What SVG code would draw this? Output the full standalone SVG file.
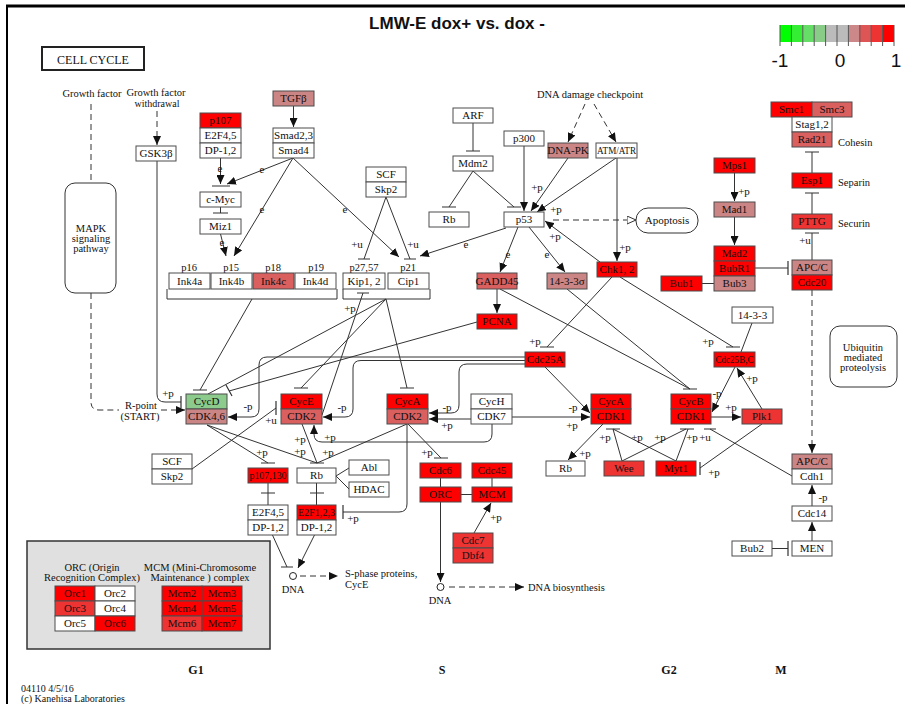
<svg xmlns="http://www.w3.org/2000/svg" width="905" height="704" viewBox="0 0 905 704">
<defs>
<style>
text{font-family:"Liberation Serif","DejaVu Serif",serif;font-size:11px;fill:#111}
.c{text-anchor:middle}
.bx{stroke:#4d4d4d;stroke-width:1}
.w{fill:#fff}.r{fill:#ff0000}.r2{fill:#ee3333}.r3{fill:#da5f5f}.pk{fill:#cc8585}.gr{fill:#8ccb8c}
.e{fill:none;stroke:#333;stroke-width:1}
.d{stroke-dasharray:6 4}
.bar{fill:none;stroke:#333;stroke-width:1.2}
.s{font-size:10.5px}
.ph{font-weight:bold;font-size:12px}
.ttl{font-family:"Liberation Sans",Arial,sans-serif;font-weight:bold;font-size:17px;text-anchor:middle}
.sc{font-family:"Liberation Sans",Arial,sans-serif;font-size:19px;text-anchor:middle}
</style>
<marker id="ah" markerUnits="userSpaceOnUse" markerWidth="9" markerHeight="8" viewBox="0 0 9 8" refX="9" refY="4" orient="auto"><path d="M0,0 L9,4 L0,8z" fill="#111"/></marker>
<marker id="oh" markerUnits="userSpaceOnUse" markerWidth="10" markerHeight="9" viewBox="0 0 10 9" refX="9.5" refY="4.5" orient="auto"><path d="M0.5,0.5 L9.5,4.5 L0.5,8.5z" fill="#fff" stroke="#333"/></marker>
</defs>

<!-- page frame and title -->
<path d="M6,6 H905" stroke="#000" stroke-width="3"/>
<path d="M7,6 V704" stroke="#000" stroke-width="2"/>
<text class="ttl" x="457" y="29">LMW-E dox+ vs. dox -</text>

<!-- colour scale -->
<g id="scale">
<rect x="780" y="25" width="11.4" height="17" fill="#00ff00"/>
<rect x="791.4" y="25" width="11.4" height="17" fill="#33ee33"/>
<rect x="802.8" y="25" width="11.4" height="17" fill="#66dd66"/>
<rect x="814.2" y="25" width="11.4" height="17" fill="#88cc88"/>
<rect x="825.6" y="25" width="11.4" height="17" fill="#bbbbbb"/>
<rect x="837" y="25" width="11.4" height="17" fill="#bbbbbb"/>
<rect x="848.4" y="25" width="11.4" height="17" fill="#cc8888"/>
<rect x="859.8" y="25" width="11.4" height="17" fill="#dd5555"/>
<rect x="871.2" y="25" width="11.4" height="17" fill="#ee3333"/>
<rect x="882.6" y="25" width="11.4" height="17" fill="#ff0000"/>
<path d="M780,25V46M791.4,25V46M802.8,25V46M814.2,25V46M825.6,25V46M837,25V46M848.4,25V46M859.8,25V46M871.2,25V46M882.6,25V46M894,25V46" stroke="#555" stroke-width="1"/>
<text class="sc" x="780" y="67">-1</text>
<text class="sc" x="840" y="67">0</text>
<text class="sc" x="896" y="67">1</text>
</g>

<!-- map title and side pathways -->
<g id="cellcycle"><rect x="42" y="47" width="102" height="23" fill="#fff" stroke="#222" stroke-width="2"/><text class="c" x="93" y="64" style="font-size:12px">CELL CYCLE</text></g>
<g id="mapk"><rect x="65" y="183" width="51" height="110" rx="10" fill="#fff" stroke="#333"/><text class="c s" x="91" y="232">MAPK</text><text class="c s" x="91" y="242">signaling</text><text class="c s" x="91" y="252">pathway</text></g>
<g id="ubiq"><rect x="830" y="326" width="67" height="61" rx="10" fill="#fff" stroke="#333"/><text class="c s" x="863" y="351">Ubiquitin</text><text class="c s" x="863" y="361">mediated</text><text class="c s" x="863" y="371">proteolysis</text></g>
<g id="apoptosis"><rect x="636" y="208" width="62" height="25" rx="12" fill="#fff" stroke="#333"/><text class="c" x="667" y="224">Apoptosis</text></g>

<!-- free labels -->
<text class="c s" x="92" y="97">Growth factor</text>
<text class="c s" x="156" y="96">Growth factor</text>
<text class="c" x="157" y="107" style="font-size:10px">withdrawal</text>
<text class="c s" x="590" y="98">DNA damage checkpoint</text>
<text class="c s" x="141" y="409">R-point</text>
<text class="c s" x="140" y="420">(START)</text>
<text class="s" x="838" y="146">Cohesin</text>
<text class="s" x="838" y="186">Separin</text>
<text class="s" x="838" y="227">Securin</text>
<text class="s" x="345" y="577">S-phase proteins,</text>
<text class="s" x="345" y="588">CycE</text>
<text class="c s" x="293" y="593">DNA</text>
<text class="c s" x="440" y="604">DNA</text>
<text class="s" x="528" y="591">DNA biosynthesis</text>
<text class="c s" x="189" y="271">p16</text>
<text class="c s" x="231" y="271">p15</text>
<text class="c s" x="273" y="271">p18</text>
<text class="c s" x="316" y="271">p19</text>
<text class="c s" x="364" y="271">p27,57</text>
<text class="c s" x="408" y="271">p21</text>
<text class="c ph" x="196" y="674">G1</text>
<text class="c ph" x="442" y="674">S</text>
<text class="c ph" x="669" y="674">G2</text>
<text class="c ph" x="781" y="674">M</text>
<text x="21" y="692" style="font-size:10px">04110 4/5/16</text>
<text x="21" y="702" style="font-size:10px">(c) Kanehisa Laboratories</text>

<!-- connectors -->
<g id="connectors">
<path class="e d" d="M91,104 V183"/>
<path class="e d" d="M91,293 V402 Q91,410 99,410 H119"/>
<path class="e d" d="M161,410 H185" marker-end="url(#ah)"/>
<path class="e d" d="M157,111 V145" marker-end="url(#ah)"/>
<path class="e d" d="M585,104 L568,142" marker-end="url(#ah)"/>
<path class="e d" d="M594,104 L616,142" marker-end="url(#ah)"/>
<path class="e d" d="M553,220 H636" marker-end="url(#oh)"/>
<path class="e d" d="M812,290 V453" marker-end="url(#ah)"/>
<path class="e d" d="M300,576 H338" marker-end="url(#ah)"/>
<path class="e d" d="M449,587 H524" marker-end="url(#ah)"/>

<path class="e" d="M293.5,106 V127" marker-end="url(#ah)"/>
<path class="e" d="M220.5,158 V184" marker-end="url(#ah)"/>
<path class="e" d="M293,158 L227,184" marker-end="url(#ah)"/>
<path class="e" d="M220.5,234 L226,256" marker-end="url(#ah)"/>
<path class="e" d="M293,158 L234,256" marker-end="url(#ah)"/>
<path class="e" d="M293,158 L399,257" marker-end="url(#ah)"/>
<path class="e" d="M506,228 L420,256" marker-end="url(#ah)"/>
<path class="e" d="M524,146 V211" marker-end="url(#ah)"/>
<path class="e" d="M568,158 L531,211" marker-end="url(#ah)"/>
<path class="e" d="M616,158 L537,212" marker-end="url(#ah)"/>
<path class="e" d="M617,158 V261" marker-end="url(#ah)"/>
<path class="e" d="M600,262 L545,221" marker-end="url(#ah)"/>
<path class="e" d="M518,227 L500,272" marker-end="url(#ah)"/>
<path class="e" d="M529,227 L565,272" marker-end="url(#ah)"/>
<path class="e" d="M497,289 V313" marker-end="url(#ah)"/>
<path class="e" d="M525,357 H267 Q259,357 259,365 V409 Q259,417 251,417 H228" marker-end="url(#ah)"/>
<path class="e" d="M525,360.5 H361 Q353,360.5 353,368 V409 Q353,417 345,417 H323" marker-end="url(#ah)"/>
<path class="e" d="M525,364 H467 Q459,364 459,372 V405 Q459,413 451,413 H429" marker-end="url(#ah)"/>
<path class="e" d="M471,419 H429" marker-end="url(#ah)"/>
<path class="e" d="M492,424 V434 Q492,442 484,442 H322 Q314,442 314,434 V425" marker-end="url(#ah)"/>
<path class="e" d="M512,417 H590" marker-end="url(#ah)"/>
<path class="e" d="M545,367 L590,413" marker-end="url(#ah)"/>
<path class="e" d="M735,367 L712,412" marker-end="url(#ah)"/>
<path class="e" d="M762,409 L737,368" marker-end="url(#ah)"/>
<path class="e" d="M711,417 H741" marker-end="url(#ah)"/>
<path class="e" d="M603,424 L568,460" marker-end="url(#ah)"/>
<path class="e" d="M315,534 L298,568" marker-end="url(#ah)"/>
<path class="e" d="M440.5,502 V582" marker-end="url(#ah)"/>
<path class="e" d="M474,533 L491,503" marker-end="url(#ah)"/>
<path class="e" d="M734.5,173 V201" marker-end="url(#ah)"/>
<path class="e" d="M734.5,217 V245" marker-end="url(#ah)"/>
<path class="e" d="M812,506 V485" marker-end="url(#ah)"/>
<path class="e" d="M812,541 V522" marker-end="url(#ah)"/>

<path class="e" d="M157,161 V394 Q157,402 165,402 H181"/>
<path class="e" d="M220.5,207 V213"/>
<path class="e" d="M473,123 V151"/>
<path class="e" d="M473,171 L449,207"/>
<path class="e" d="M473,171 L514,207"/>
<path class="e" d="M386,197 L364,259"/>
<path class="e" d="M386,197 L410,259"/>
<path class="e" d="M167,289 V299 H337 V289"/>
<path class="e" d="M343,289 V299 H430 V289"/>
<path class="e" d="M252,299 L200,390"/>
<path class="e" d="M386,299 L208,394"/>
<path class="e" d="M477,322 L229,391"/>
<path class="e" d="M386,299 L301,388"/>
<path class="e" d="M386,299 L407,388"/>
<path class="e" d="M322,415 L363,293"/>
<path class="e" d="M612,277 L547,347"/>
<path class="e" d="M620,277 L733,347"/>
<path class="e" d="M752,323 L741,352"/>
<path class="e" d="M500,289 L690,389"/>
<path class="e" d="M567,289 L690,389"/>
<path class="e" d="M622,461 L613,429"/>
<path class="e" d="M622,461 L686,429"/>
<path class="e" d="M676,461 L613,429"/>
<path class="e" d="M676,461 L688,429"/>
<path class="e" d="M792,476 L710,429"/>
<path class="e" d="M762,424 L700,468"/>
<path class="e" d="M207,425 L268,463"/>
<path class="e" d="M207,425 L317,463"/>
<path class="e" d="M302,424 L317,463"/>
<path class="e" d="M407,424 L317,463"/>
<path class="e" d="M192,469 L276,408"/>
<path class="e" d="M336,476 L349,468 M336,476 L349,489"/>
<path class="e" d="M268,483 V505 M316.5,483 V505"/>
<path class="e" d="M407,424 V504 Q407,512 399,512 H343"/>
<path class="e" d="M408,424 L441,458"/>
<path class="e" d="M272,534 L287,567"/>
<path class="e" d="M440.5,478 V487 M492,478 V487 M461,494.5 H472"/>
<path class="e" d="M702,283.5 H714"/>
<path class="e" d="M755,268 H788"/>
<path class="e" d="M812,260 V233 M812,214 V193 M812,173 V152"/>
<path class="e" d="M772,548.5 H788"/>

<!-- inhibition bars and crossing ticks -->
<path class="bar" d="M181,396 V408 M212,186 H230 M213,213 H228 M466,151 H480 M442,207 H456 M507,207 H521 M358,259 H370 M404,259 H416 M193,390 H207 M226,385 L232,396 M294,388 H308 M400,388 H414 M357,293 H369 M540,347 H554 M726,347 H740 M683,389 H697 M606,429 H620 M680,429 H694 M704,429 H716 M700,462 V475 M261,463 H275 M310,463 H324 M343,505 V519 M434,458 H448 M276,401 V415 M281,567 H293 M788,261 V275 M805,233 H819 M805,193 H819 M805,152 H819 M788,541 V556 M261,493 H275 M310,493 H324"/>

<circle cx="293" cy="576" r="3.5" fill="#fff" stroke="#222"/>
<circle cx="440.5" cy="587" r="3.5" fill="#fff" stroke="#222"/>

<!-- edge labels -->
<g class="s">
<text class="c" x="168" y="397">+p</text>
<text class="c" x="220" y="172">e</text>
<text class="c" x="262" y="173">e</text>
<text class="c" x="222" y="246">e</text>
<text class="c" x="262" y="213">e</text>
<text class="c" x="345" y="213">e</text>
<text class="c" x="466" y="248">e</text>
<text class="c" x="508" y="258">e</text>
<text class="c" x="547" y="258">e</text>
<text class="c" x="357" y="248">+u</text>
<text class="c" x="413" y="248">+u</text>
<text class="c" x="537" y="191">+p</text>
<text class="c" x="556" y="213">+p</text>
<text class="c" x="625" y="251">+p</text>
<text class="c" x="555" y="240">+p</text>
<text class="c" x="535" y="345">+p</text>
<text class="c" x="708" y="345">+p</text>
<text class="c" x="248" y="410">-p</text>
<text class="c" x="342" y="411">-p</text>
<text class="c" x="447" y="411">-p</text>
<text class="c" x="447" y="429">+p</text>
<text class="c" x="330" y="441">+p</text>
<text class="c" x="573" y="411">-p</text>
<text class="c" x="572" y="429">+p</text>
<text class="c" x="717" y="397">-p</text>
<text class="c" x="752" y="382">+p</text>
<text class="c" x="731" y="411">+p</text>
<text class="c" x="585" y="457">+p</text>
<text class="c" x="605" y="441">+p</text>
<text class="c" x="637" y="441">+p</text>
<text class="c" x="660" y="441">+p</text>
<text class="c" x="692" y="441">+p</text>
<text class="c" x="705" y="441">+u</text>
<text class="c" x="714" y="476">+p</text>
<text class="c" x="262" y="456">+p</text>
<text class="c" x="300" y="443">+p</text>
<text class="c" x="300" y="455">+p</text>
<text class="c" x="328" y="456">+p</text>
<text class="c" x="271" y="424">+u</text>
<text class="c" x="353" y="522">+p</text>
<text class="c" x="427" y="456">+p</text>
<text class="c" x="350" y="312">+p</text>
<text class="c" x="496" y="521">+p</text>
<text class="c" x="744" y="195">+p</text>
<text class="c" x="805" y="244">+u</text>
<text class="c" x="823" y="501">-p</text>
</g>
</g>

<!-- gene product nodes -->
<g id="gsk3b"><rect class="bx w" x="136" y="146" width="40" height="15"/><text class="c" x="156" y="157">GSK3β</text></g>
<g id="p107-e2f45"><rect class="bx r" x="200" y="113" width="41" height="15"/><rect class="bx w" x="200" y="128" width="41" height="15"/><rect class="bx w" x="200" y="143" width="41" height="15"/><text class="c" x="220.5" y="124">p107</text><text class="c" x="220.5" y="139">E2F4,5</text><text class="c" x="220.5" y="154">DP-1,2</text></g>
<g id="tgfb"><rect class="bx pk" x="273" y="91" width="41" height="15"/><text class="c" x="293.5" y="102">TGFβ</text></g>
<g id="smad"><rect class="bx w" x="273" y="128" width="41" height="15"/><rect class="bx w" x="273" y="143" width="41" height="15"/><text class="c" x="293.5" y="139">Smad2,3</text><text class="c" x="293.5" y="154">Smad4</text></g>
<g id="cmyc"><rect class="bx w" x="200" y="192" width="41" height="15"/><text class="c" x="220.5" y="203">c-Myc</text></g>
<g id="miz1"><rect class="bx w" x="200" y="219" width="41" height="15"/><text class="c" x="220.5" y="230">Miz1</text></g>
<g id="ink4a"><rect class="bx w" x="169" y="273" width="41" height="16"/><text class="c" x="189.5" y="285">Ink4a</text></g>
<g id="ink4b"><rect class="bx w" x="211" y="273" width="41" height="16"/><text class="c" x="231.5" y="285">Ink4b</text></g>
<g id="ink4c"><rect class="bx r3" x="253" y="273" width="41" height="16"/><text class="c" x="273.5" y="285">Ink4c</text></g>
<g id="ink4d"><rect class="bx w" x="295" y="273" width="41" height="16"/><text class="c" x="315.5" y="285">Ink4d</text></g>
<g id="kip12"><rect class="bx w" x="343" y="273" width="42" height="16"/><text class="c" x="364" y="285">Kip1, 2</text></g>
<g id="cip1"><rect class="bx w" x="388" y="273" width="41" height="16"/><text class="c" x="408.5" y="285">Cip1</text></g>
<g id="scf-skp2-a"><rect class="bx w" x="366" y="167" width="40" height="15"/><rect class="bx w" x="366" y="182" width="40" height="15"/><text class="c" x="386" y="178">SCF</text><text class="c" x="386" y="193">Skp2</text></g>
<g id="arf"><rect class="bx w" x="453" y="108" width="40" height="15"/><text class="c" x="473" y="119">ARF</text></g>
<g id="mdm2"><rect class="bx w" x="453" y="156" width="40" height="15"/><text class="c" x="473" y="167">Mdm2</text></g>
<g id="rb-a"><rect class="bx w" x="429" y="212" width="40" height="15"/><text class="c" x="449" y="223">Rb</text></g>
<g id="p300"><rect class="bx w" x="504" y="131" width="40" height="15"/><text class="c" x="524" y="142">p300</text></g>
<g id="p53"><rect class="bx w" x="504" y="212" width="40" height="15"/><text class="c" x="524" y="223">p53</text></g>
<g id="dnapk"><rect class="bx pk" x="548" y="143" width="40" height="15"/><text class="c" x="568" y="154">DNA-PK</text></g>
<g id="atm-atr"><rect class="bx w" x="596" y="143" width="41" height="15"/><text class="c" x="616.5" y="154" textLength="39" lengthAdjust="spacingAndGlyphs">ATM/ATR</text></g>
<g id="chk12"><rect class="bx r" x="597" y="262" width="40" height="15"/><text class="c" x="617" y="273">Chk1, 2</text></g>
<g id="gadd45"><rect class="bx r3" x="477" y="273" width="40" height="16"/><text class="c" x="497" y="285">GADD45</text></g>
<g id="s1433s"><rect class="bx pk" x="547" y="273" width="40" height="16"/><text class="c" x="567" y="285">14-3-3σ</text></g>
<g id="pcna"><rect class="bx r" x="477" y="314" width="40" height="15"/><text class="c" x="497" y="325">PCNA</text></g>
<g id="cdc25a"><rect class="bx r" x="525" y="352" width="40" height="15"/><text class="c" x="545" y="363">Cdc25A</text></g>
<g id="s1433"><rect class="bx w" x="732" y="307" width="41" height="16"/><text class="c" x="752.5" y="319">14-3-3</text></g>
<g id="cdc25bc"><rect class="bx r" x="714" y="352" width="41" height="15"/><text class="c" x="734.5" y="363" textLength="38" lengthAdjust="spacingAndGlyphs">Cdc25B,C</text></g>
<g id="cycd-cdk46"><rect class="bx gr" x="186" y="394" width="41" height="15"/><rect class="bx pk" x="186" y="409" width="41" height="15"/><text class="c" x="206.5" y="405">CycD</text><text class="c" x="206.5" y="420">CDK4,6</text></g>
<g id="cyce-cdk2"><rect class="bx r" x="281" y="394" width="41" height="15"/><rect class="bx r3" x="281" y="409" width="41" height="15"/><text class="c" x="301.5" y="405">CycE</text><text class="c" x="301.5" y="420">CDK2</text></g>
<g id="cyca-cdk2"><rect class="bx r" x="387" y="394" width="41" height="15"/><rect class="bx r3" x="387" y="409" width="41" height="15"/><text class="c" x="407.5" y="405">CycA</text><text class="c" x="407.5" y="420">CDK2</text></g>
<g id="cych-cdk7"><rect class="bx w" x="471" y="394" width="41" height="15"/><rect class="bx w" x="471" y="409" width="41" height="15"/><text class="c" x="491.5" y="405">CycH</text><text class="c" x="491.5" y="420">CDK7</text></g>
<g id="cyca-cdk1"><rect class="bx r" x="591" y="394" width="40" height="15"/><rect class="bx r" x="591" y="409" width="40" height="15"/><text class="c" x="611" y="405">CycA</text><text class="c" x="611" y="420">CDK1</text></g>
<g id="cycb-cdk1"><rect class="bx r" x="671" y="394" width="40" height="15"/><rect class="bx r" x="671" y="409" width="40" height="15"/><text class="c" x="691" y="405">CycB</text><text class="c" x="691" y="420">CDK1</text></g>
<g id="plk1"><rect class="bx r2" x="742" y="409" width="40" height="15"/><text class="c" x="762" y="420">Plk1</text></g>
<g id="rb-c"><rect class="bx w" x="546" y="461" width="39" height="15"/><text class="c" x="565.5" y="472">Rb</text></g>
<g id="wee"><rect class="bx r2" x="604" y="461" width="40" height="15"/><text class="c" x="624" y="472">Wee</text></g>
<g id="myt1"><rect class="bx r" x="656" y="461" width="40" height="15"/><text class="c" x="676" y="472">Myt1</text></g>
<g id="scf-skp2-b"><rect class="bx w" x="152" y="454" width="40" height="15"/><rect class="bx w" x="152" y="469" width="40" height="15"/><text class="c" x="172" y="465">SCF</text><text class="c" x="172" y="480">Skp2</text></g>
<g id="p107-130"><rect class="bx r" x="248" y="468" width="40" height="15"/><text class="c" x="268" y="479" textLength="37" lengthAdjust="spacingAndGlyphs">p107,130</text></g>
<g id="rb-b"><rect class="bx w" x="297" y="468" width="39" height="15"/><text class="c" x="316.5" y="479">Rb</text></g>
<g id="abl"><rect class="bx w" x="349" y="460" width="40" height="15"/><text class="c" x="369" y="471">Abl</text></g>
<g id="hdac"><rect class="bx w" x="349" y="482" width="40" height="15"/><text class="c" x="369" y="493">HDAC</text></g>
<g id="e2f45-dp"><rect class="bx w" x="248" y="505" width="40" height="15"/><rect class="bx w" x="248" y="520" width="40" height="15"/><text class="c" x="268" y="516">E2F4,5</text><text class="c" x="268" y="531">DP-1,2</text></g>
<g id="e2f123-dp"><rect class="bx r" x="297" y="505" width="39" height="15"/><rect class="bx w" x="297" y="520" width="39" height="15"/><text class="c" x="316.5" y="516" textLength="37" lengthAdjust="spacingAndGlyphs">E2F1,2,3</text><text class="c" x="316.5" y="531">DP-1,2</text></g>
<g id="cdc6"><rect class="bx r" x="420" y="463" width="41" height="15"/><text class="c" x="440.5" y="474">Cdc6</text></g>
<g id="cdc45"><rect class="bx r" x="472" y="463" width="40" height="15"/><text class="c" x="492" y="474">Cdc45</text></g>
<g id="orc"><rect class="bx r" x="420" y="487" width="41" height="15"/><text class="c" x="440.5" y="498">ORC</text></g>
<g id="mcm"><rect class="bx r" x="472" y="487" width="40" height="15"/><text class="c" x="492" y="498">MCM</text></g>
<g id="cdc7-dbf4"><rect class="bx r2" x="453" y="533" width="40" height="15"/><rect class="bx r2" x="453" y="548" width="40" height="15"/><text class="c" x="473" y="544">Cdc7</text><text class="c" x="473" y="559">Dbf4</text></g>
<g id="cohesin"><rect class="bx r" x="771" y="102" width="41" height="15"/><rect class="bx r3" x="812" y="102" width="40" height="15"/><rect class="bx w" x="792" y="117" width="40" height="15"/><rect class="bx r3" x="792" y="132" width="40" height="15"/><text class="c" x="791.5" y="113">Smc1</text><text class="c" x="832" y="113">Smc3</text><text class="c" x="812" y="128">Stag1,2</text><text class="c" x="812" y="143">Rad21</text></g>
<g id="esp1"><rect class="bx r" x="792" y="173" width="40" height="15"/><text class="c" x="812" y="184">Esp1</text></g>
<g id="pttg"><rect class="bx r2" x="792" y="214" width="40" height="15"/><text class="c" x="812" y="225">PTTG</text></g>
<g id="mps1"><rect class="bx r" x="714" y="158" width="41" height="15"/><text class="c" x="734.5" y="169">Mps1</text></g>
<g id="mad1"><rect class="bx pk" x="714" y="202" width="41" height="15"/><text class="c" x="734.5" y="213">Mad1</text></g>
<g id="mad2-bubr1-bub3"><rect class="bx r" x="714" y="246" width="41" height="15"/><rect class="bx r" x="714" y="261" width="41" height="15"/><rect class="bx pk" x="714" y="276" width="41" height="15"/><text class="c" x="734.5" y="257">Mad2</text><text class="c" x="734.5" y="272">BubR1</text><text class="c" x="734.5" y="287">Bub3</text></g>
<g id="bub1"><rect class="bx r" x="661" y="276" width="41" height="15"/><text class="c" x="681.5" y="287">Bub1</text></g>
<g id="apc-cdc20"><rect class="bx pk" x="792" y="260" width="40" height="15"/><rect class="bx r" x="792" y="275" width="40" height="15"/><text class="c" x="812" y="271">APC/C</text><text class="c" x="812" y="286">Cdc20</text></g>
<g id="apc-cdh1"><rect class="bx pk" x="792" y="454" width="40" height="15"/><rect class="bx w" x="792" y="469" width="40" height="15"/><text class="c" x="812" y="465">APC/C</text><text class="c" x="812" y="480">Cdh1</text></g>
<g id="cdc14"><rect class="bx w" x="792" y="506" width="40" height="15"/><text class="c" x="812" y="517">Cdc14</text></g>
<g id="men"><rect class="bx w" x="792" y="541" width="40" height="15"/><text class="c" x="812" y="552">MEN</text></g>
<g id="bub2"><rect class="bx w" x="732" y="541" width="40" height="15"/><text class="c" x="752" y="552">Bub2</text></g>

<!-- ORC / MCM complex legend -->
<g id="complex-legend">
<rect x="27" y="541" width="243" height="108" fill="#e0e0e0" stroke="#333" stroke-width="1.5"/>
<text class="c s" x="92" y="571">ORC (Origin</text>
<text class="c s" x="92" y="581">Recognition Complex)</text>
<text class="c s" x="200" y="571">MCM (Mini-Chromosome</text>
<text class="c s" x="200" y="581">Maintenance ) complex</text>
<rect class="bx r" x="55" y="586" width="40" height="15"/><rect class="bx w" x="95" y="586" width="40" height="15"/>
<rect class="bx r2" x="55" y="601" width="40" height="15"/><rect class="bx w" x="95" y="601" width="40" height="15"/>
<rect class="bx w" x="55" y="616" width="40" height="15"/><rect class="bx r" x="95" y="616" width="40" height="15"/>
<text class="c" x="75" y="597">Orc1</text><text class="c" x="115" y="597">Orc2</text>
<text class="c" x="75" y="612">Orc3</text><text class="c" x="115" y="612">Orc4</text>
<text class="c" x="75" y="627">Orc5</text><text class="c" x="115" y="627">Orc6</text>
<rect class="bx r" x="162" y="586" width="40" height="15"/><rect class="bx r" x="202" y="586" width="40" height="15"/>
<rect class="bx r" x="162" y="601" width="40" height="15"/><rect class="bx r" x="202" y="601" width="40" height="15"/>
<rect class="bx r2" x="162" y="616" width="40" height="15"/><rect class="bx r" x="202" y="616" width="40" height="15"/>
<text class="c" x="182" y="597">Mcm2</text><text class="c" x="222" y="597">Mcm3</text>
<text class="c" x="182" y="612">Mcm4</text><text class="c" x="222" y="612">Mcm5</text>
<text class="c" x="182" y="627">Mcm6</text><text class="c" x="222" y="627">Mcm7</text>
</g>
</svg>
